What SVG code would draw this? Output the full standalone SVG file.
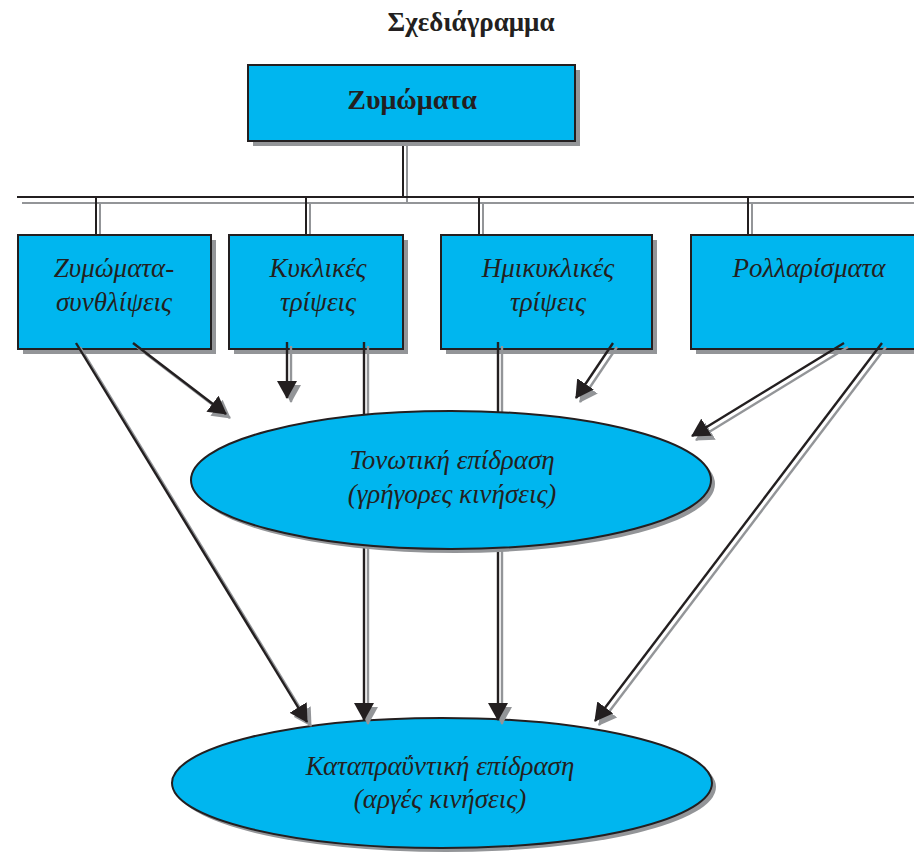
<svg xmlns="http://www.w3.org/2000/svg" width="914" height="854" viewBox="0 0 914 854">
<defs>
<marker id="ah" markerUnits="userSpaceOnUse" viewBox="0 0 18 20" refX="17" refY="10" markerWidth="18" markerHeight="20" orient="auto"><path d="M0,0 L18,10 L0,20 z" fill="#231f20"/></marker>
<marker id="ahg" markerUnits="userSpaceOnUse" viewBox="0 0 18 20" refX="17" refY="10" markerWidth="18" markerHeight="20" orient="auto"><path d="M0,0 L18,10 L0,20 z" fill="#939598"/></marker>
</defs>
<style>
.box{fill:#00b6ef;stroke:#231f20;stroke-width:2}
.sh{fill:#939598}
.blk{stroke:#231f20;stroke-width:2;fill:none}
.gry{stroke:#939598;stroke-width:2;fill:none}
.ab{stroke:#231f20;stroke-width:2.4;fill:none;marker-end:url(#ah)}
.ag{stroke:#939598;stroke-width:2.4;fill:none;marker-end:url(#ahg)}
.t{font-family:"Liberation Serif","DejaVu Serif",serif;font-style:italic;font-size:27px;fill:#231f20;text-anchor:middle}
.b{font-family:"Liberation Serif","DejaVu Serif",serif;font-weight:bold;fill:#231f20;text-anchor:middle}
</style>
<rect width="914" height="854" fill="#ffffff"/>
<text class="b" x="471" y="31" font-size="27">Σχεδιάγραμμα</text>

<g id="bus">
<line class="gry" x1="407" y1="146" x2="407" y2="203"/>
<line class="blk" x1="403" y1="141" x2="403" y2="197"/>
<line class="gry" x1="22" y1="203" x2="914" y2="203"/>
<line class="blk" x1="17" y1="197" x2="914" y2="197"/>
<line class="gry" x1="100" y1="203" x2="100" y2="235"/>
<line class="blk" x1="96" y1="197" x2="96" y2="235"/>
<line class="gry" x1="310" y1="203" x2="310" y2="235"/>
<line class="blk" x1="306" y1="197" x2="306" y2="235"/>
<line class="gry" x1="483" y1="203" x2="483" y2="235"/>
<line class="blk" x1="479" y1="197" x2="479" y2="235"/>
<line class="gry" x1="752" y1="203" x2="752" y2="235"/>
<line class="blk" x1="748" y1="197" x2="748" y2="235"/>
</g>

<g id="top">
<rect class="sh" x="253" y="70" width="327" height="76"/>
<rect class="box" x="248" y="65" width="327" height="76"/>
<text class="b" x="412" y="109" font-size="28">Ζυμώματα</text>
</g>

<g id="n1">
<rect class="sh" x="23" y="240" width="193" height="114"/>
<rect class="box" x="18" y="235" width="193" height="114"/>
<text class="t" x="114" y="277">Ζυμώματα-</text>
<text class="t" x="114" y="311">συνθλίψεις</text>
</g>
<g id="n2">
<rect class="sh" x="234" y="240" width="174" height="114"/>
<rect class="box" x="229" y="235" width="174" height="114"/>
<text class="t" x="318" y="277">Κυκλικές</text>
<text class="t" x="318" y="311">τρίψεις</text>
</g>
<g id="n3">
<rect class="sh" x="446" y="240" width="211" height="114"/>
<rect class="box" x="441" y="235" width="211" height="114"/>
<text class="t" x="548" y="277">Ημικυκλικές</text>
<text class="t" x="548" y="311">τρίψεις</text>
</g>
<g id="n4">
<rect class="sh" x="696" y="240" width="240" height="114"/>
<rect class="box" x="691" y="235" width="240" height="114"/>
<text class="t" x="809" y="277">Ρολλαρίσματα</text>
</g>

<g id="slow">
<ellipse class="sh" cx="446" cy="787" rx="270" ry="65"/>
<ellipse class="box" cx="442" cy="783" rx="270" ry="65"/>
<text class="t" x="440" y="775">Καταπραΰντική επίδραση</text>
<text class="t" x="440" y="808">(αργές κινήσεις)</text>
</g>

<g id="connectors">
<line class="ag" x1="137" y1="347" x2="230" y2="418"/>
<line class="ab" x1="133" y1="343" x2="226" y2="414"/>
<line class="ag" x1="80" y1="347" x2="311" y2="726"/>
<line class="ab" x1="76" y1="343" x2="307" y2="722"/>
<line class="ag" x1="291" y1="346" x2="291" y2="402"/>
<line class="ab" x1="287" y1="342" x2="287" y2="398"/>
<line class="ag" x1="368" y1="346" x2="368" y2="724"/>
<line class="ab" x1="364" y1="342" x2="364" y2="720"/>
<line class="ag" x1="502" y1="346" x2="502" y2="724"/>
<line class="ab" x1="498" y1="342" x2="498" y2="720"/>
<line class="ag" x1="617" y1="347" x2="580" y2="402"/>
<line class="ab" x1="613" y1="343" x2="576" y2="398"/>
<line class="ag" x1="848" y1="347" x2="696" y2="440"/>
<line class="ab" x1="844" y1="343" x2="692" y2="436"/>
<line class="ag" x1="886" y1="347" x2="599" y2="725"/>
<line class="ab" x1="882" y1="343" x2="595" y2="721"/>
</g>

<g id="fast">
<ellipse class="sh" cx="455" cy="484" rx="260" ry="69"/>
<ellipse class="box" cx="451" cy="480" rx="260" ry="69"/>
<text class="t" x="452" y="469">Τονωτική επίδραση</text>
<text class="t" x="452" y="503">(γρήγορες κινήσεις)</text>
</g>
</svg>
